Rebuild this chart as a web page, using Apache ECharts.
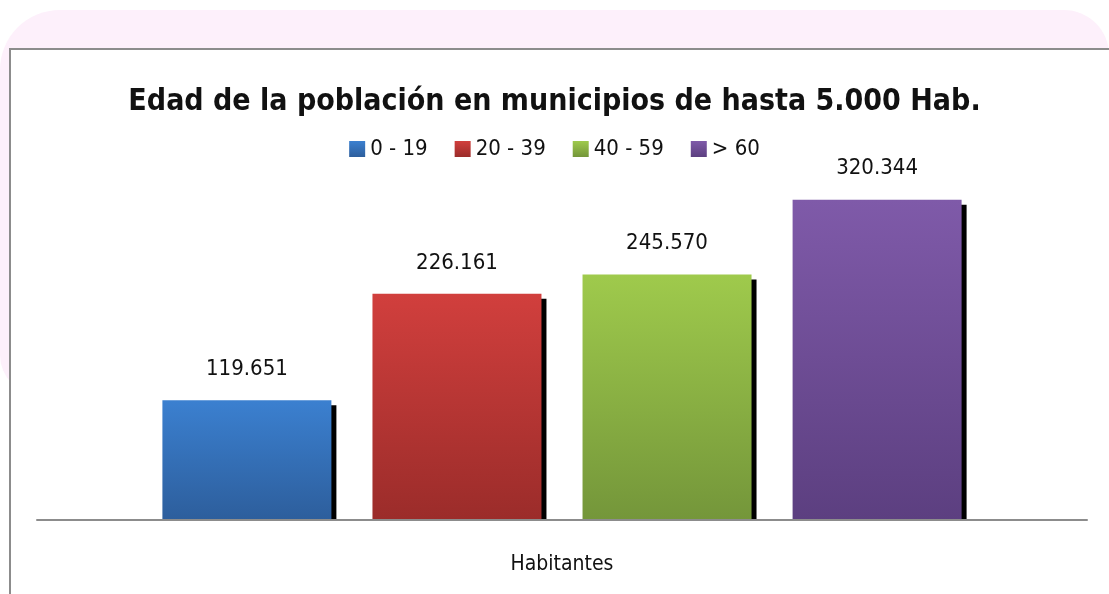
<!DOCTYPE html>
<html>
<head>
<meta charset="utf-8">
<script src="https://cdn.jsdelivr.net/npm/echarts@6/dist/echarts.min.js"></script>
<style>
  html, body { margin: 0; padding: 0; background: #fff; }
  #chart { width: 1109px; height: 594px; }
</style>
</head>
<body>
<div id="chart"></div>
<script>
// datos
var categories = ['Habitantes'];
var groupNames = ['0 - 19', '20 - 39', '40 - 59', '> 60'];
var groupValues = [119651, 226161, 245570, 320344];
var topColors = ['#3b80d0', '#d13f3d', '#9fca4c', '#7f5aa9'];
var bottomColors = ['#2d5e9c', '#9b2c2a', '#74963a', '#5c3f80'];

var narrow = '"DejaVu Sans Condensed", "Liberation Sans Narrow", "Liberation Sans", sans-serif';

function fmt(v) {
    return String(v).replace(/\B(?=(\d{3})+(?!\d))/g, '.');
}

var series = groupNames.map(function (name, i) {
    return {
        name: name,
        type: 'bar',
        data: [groupValues[i]],
        barWidth: 169,
        barGap: '24.3%',
        itemStyle: {
            color: new echarts.graphic.LinearGradient(0, 0, 0, 1, [
                { offset: 0, color: topColors[i] },
                { offset: 1, color: bottomColors[i] }
            ]),
            shadowColor: '#000',
            shadowBlur: 0,
            shadowOffsetX: 5,
            shadowOffsetY: 5
        },
        label: {
            show: true,
            position: 'top',
            distance: 20,
            fontFamily: narrow,
            fontSize: 22,
            color: '#111',
            formatter: function (p) { return fmt(p.value); }
        }
    };
});

var chart = echarts.init(document.getElementById('chart'));
chart.setOption({
    backgroundColor: '#fff',
    animation: false,
    graphic: [
        {
            type: 'rect', z: -10, silent: true,
            shape: { x: 0, y: 10, width: 1109, height: 385, r: [60, 45, 0, 40] },
            style: { fill: '#fdf0fb' }
        },
        {
            type: 'rect', z: -9, silent: true,
            shape: { x: 10, y: 49, width: 1110, height: 560 },
            style: { fill: '#fff', stroke: '#8c8c8c', lineWidth: 2 }
        },
        {
            // tapa la sombra por debajo del eje
            type: 'rect', z: 5, silent: true,
            shape: { x: 160, y: 521, width: 820, height: 8 },
            style: { fill: '#fff' }
        }
    ],
    title: {
        text: 'Edad de la población en municipios de hasta 5.000 Hab.',
        left: 'center',
        top: 82,
        textStyle: {
            fontFamily: narrow,
            fontSize: 30,
            fontWeight: 'bold',
            color: '#111'
        }
    },
    legend: {
        top: 133,
        left: 'center',
        itemWidth: 16,
        itemHeight: 16,
        itemGap: 27,
        icon: 'rect',
        textStyle: { fontFamily: narrow, fontSize: 22, color: '#111' },
        data: groupNames
    },
    grid: { left: 37, right: 22, top: 120, bottom: 74 },
    xAxis: {
        type: 'category',
        data: categories,
        z: 10,
        axisLine: { lineStyle: { color: '#8c8c8c', width: 2 } },
        axisTick: { show: false },
        axisLabel: {
            margin: 34,
            fontFamily: narrow,
            fontSize: 21,
            color: '#111'
        }
    },
    yAxis: {
        type: 'value',
        min: 0,
        max: 400000,
        show: false,
        splitLine: { show: false }
    },
    series: series
});
</script>
</body>
</html>
